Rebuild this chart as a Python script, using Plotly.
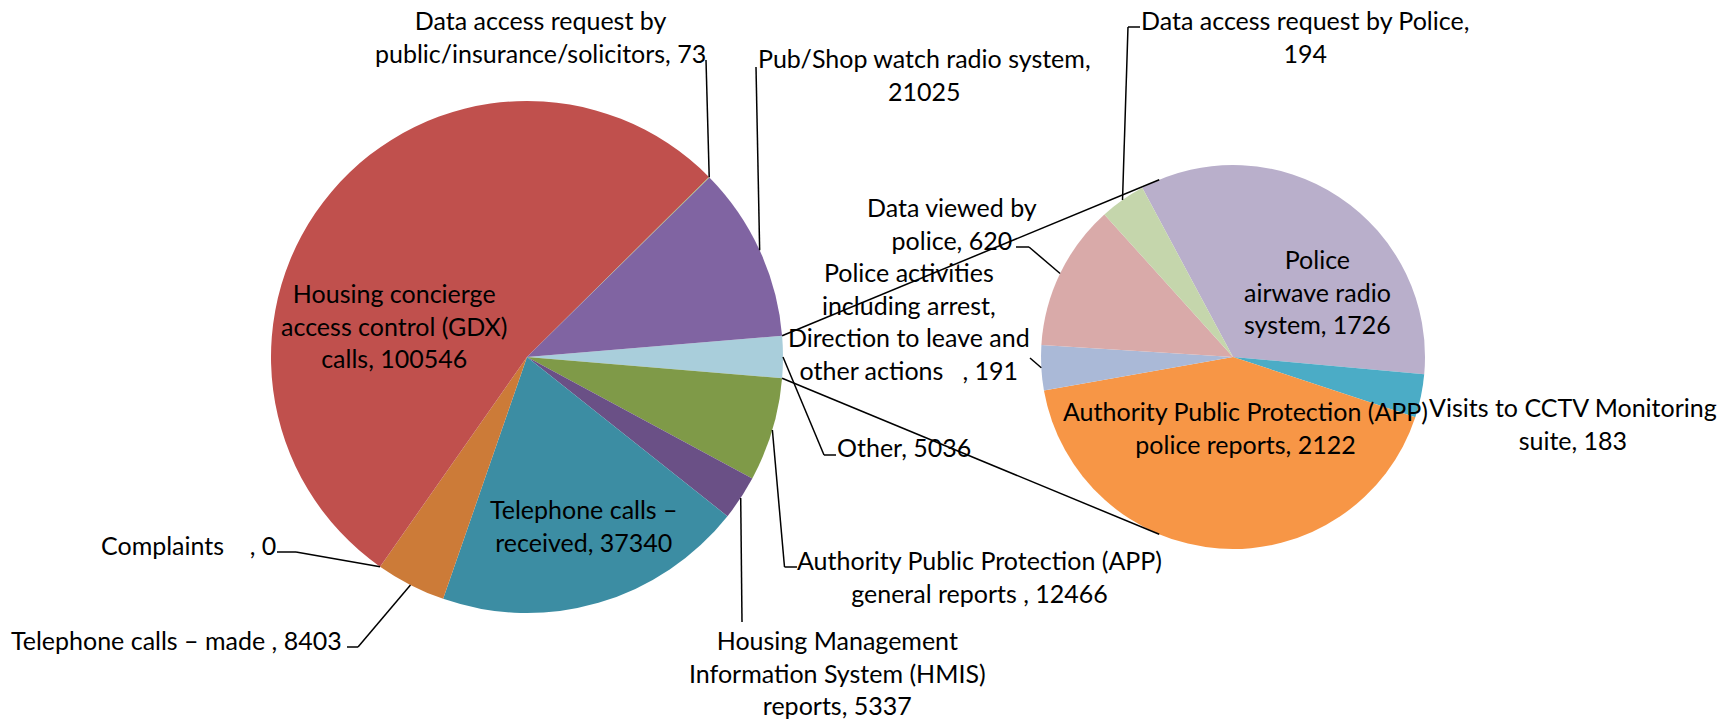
import math
import plotly.graph_objects as go

# ---------------- DATA ----------------
main_labels = [
    "Other",
    "Authority Public Protection (APP) general reports",
    "Housing Management Information System (HMIS) reports",
    "Telephone calls – received",
    "Telephone calls – made",
    "Complaints",
    "Housing concierge access control (GDX) calls",
    "Data access request by public/insurance/solicitors",
    "Pub/Shop watch radio system",
]
main_values = [5036, 12466, 5337, 37340, 8403, 0, 100546, 73, 21025]

second_labels = [
    "Police airwave radio system",
    "Visits to CCTV Monitoring suite",
    "Authority Public Protection (APP) police reports",
    "Police activities including arrest, Direction to leave and other actions",
    "Data viewed by police",
    "Data access request by Police",
]
second_values = [1726, 183, 2122, 191, 620, 194]

# label texts as shown on the chart
main_label_text = [
    "Other, 5036",
    "Authority Public Protection (APP)<br>general reports , 12466",
    "Housing Management<br>Information System (HMIS)<br>reports, 5337",
    "Telephone calls –<br>received, 37340",
    "Telephone calls – made , 8403",
    "Complaints\u00a0\u00a0\u00a0 , 0",
    "Housing concierge<br>access control (GDX)<br>calls, 100546",
    "Data access request by<br>public/insurance/solicitors, 73",
    "Pub/Shop watch radio system,<br>21025",
]
second_label_text = [
    "Police<br>airwave radio<br>system, 1726",
    "Visits to CCTV Monitoring<br>suite, 183",
    "Authority Public Protection (APP)<br>police reports, 2122",
    "Police activities<br>including arrest,<br>Direction to leave and<br>other actions\u00a0\u00a0 , 191",
    "Data viewed by<br>police, 620",
    "Data access request by Police,<br>194",
]

# ---------------- STYLE / GEOMETRY ----------------
W, H = 1722, 719
MAIN_C, MAIN_R = (527, 357), 256
SEC_C, SEC_R = (1233, 357), 192
SEC_ROTATION = -28.2
CONNECT_ANGLE = 22.6   # connector end points on the second pie, degrees from vertical
FONT = "Lato"
FS = 25
LINE_H = 32.5

main_colors = ["#A9CEDB", "#7F9A48", "#6A5086", "#3C8DA3", "#CC7B38",
               "#9BBB59", "#C0504D", "#9BBB59", "#8064A2"]
second_colors = ["#B9AFCB", "#4BACC6", "#F79646", "#AAB9D7", "#D9AAA9", "#C5D6AC"]

main_total = sum(main_values)
MAIN_ROTATION = 90 - main_values[0] / main_total * 360 / 2


def px(x):
    return x / W


def py(y):
    return 1 - y / H


def domain(c, r):
    return dict(x=[(c[0] - r) / W, (c[0] + r) / W], y=[1 - (c[1] + r) / H, 1 - (c[1] - r) / H])


def slice_angles(values, rotation):
    tot = sum(values)
    a = rotation
    out = []
    for v in values:
        b = a + v / tot * 360
        out.append((a, b))
        a = b
    return out


def on_circle(c, r, ang):
    t = math.radians(ang)
    return (c[0] + r * math.sin(t), c[1] - r * math.cos(t))


main_ang = slice_angles(main_values, MAIN_ROTATION)
sec_ang = slice_angles(second_values, SEC_ROTATION)

fig = go.Figure()
fig.add_trace(go.Pie(
    labels=main_labels, values=main_values, sort=False, direction="clockwise",
    rotation=MAIN_ROTATION, marker=dict(colors=main_colors, line=dict(width=0)),
    textinfo="none", domain=domain(MAIN_C, MAIN_R), showlegend=False,
    hoverinfo="label+value",
))
fig.add_trace(go.Pie(
    labels=second_labels, values=second_values, sort=False, direction="clockwise",
    rotation=SEC_ROTATION, marker=dict(colors=second_colors, line=dict(width=0)),
    textinfo="none", domain=domain(SEC_C, SEC_R), showlegend=False,
    hoverinfo="label+value",
))

# label placement: (pie, index, text centre x, first-line centre y, leader points from text, anchor fraction)
placements = [
    ("m", 7, 540, 20, [(706, 60)], 0.5),
    ("m", 8, 924, 58, [(756, 67)], 0.5),
    ("m", 0, 904, 447, [(836, 455), (824, 455)], 0.5),
    ("m", 1, 979, 560, [(797, 567), (784.5, 567)], 0.5),
    ("m", 2, 837, 640, [(742, 622)], 0.5),
    ("m", 4, 176, 640, [(347, 647), (358, 647)], 0.5),
    ("m", 5, 188, 545, [(277, 552), (296, 552)], 0.5),
    ("m", 6, 394, 293, None, None),
    ("m", 3, 584, 509, None, None),
    ("s", 5, 1305, 20, [(1140, 27), (1128, 27)], 0.5),
    ("s", 4, 952, 207, [(1016, 247), (1029, 247)], 0.5),
    ("s", 3, 909, 272, [(1030, 358)], 0.5),
    ("s", 1, 1573, 407, None, None),
    ("s", 0, 1317, 259, None, None),
    ("s", 2, 1245, 411, None, None),
]

shapes = []
annotations = []


def seg(p, q):
    shapes.append(dict(type="line", xref="paper", yref="paper",
                       x0=px(p[0]), y0=py(p[1]), x1=px(q[0]), y1=py(q[1]),
                       line=dict(color="black", width=1.5)))


for pie, idx, tx, ty, pts, frac in placements:
    text = (main_label_text if pie == "m" else second_label_text)[idx]
    n = text.count("<br>") + 1
    cy = ty + (n - 1) * LINE_H / 2
    annotations.append(dict(
        text=text, x=px(tx), y=py(cy), xref="paper", yref="paper",
        xanchor="center", yanchor="middle", showarrow=False, align="center",
        font=dict(family=FONT, size=FS, color="black"),
    ))
    if pts:
        a0, a1 = (main_ang if pie == "m" else sec_ang)[idx]
        c, r = (MAIN_C, MAIN_R) if pie == "m" else (SEC_C, SEC_R)
        anchor = on_circle(c, r, a0 + (a1 - a0) * frac)
        path = pts + [anchor]
        for p, q in zip(path[:-1], path[1:]):
            seg(p, q)

# connector lines between the "Other" slice and the second pie
o0, o1 = main_ang[0]
seg(on_circle(MAIN_C, MAIN_R, o0), on_circle(SEC_C, SEC_R, 360 - CONNECT_ANGLE))
seg(on_circle(MAIN_C, MAIN_R, o1), on_circle(SEC_C, SEC_R, 180 + CONNECT_ANGLE))

fig.update_layout(
    width=W, height=H, margin=dict(l=0, r=0, t=0, b=0),
    paper_bgcolor="white", plot_bgcolor="white",
    shapes=shapes, annotations=annotations,
    font=dict(family=FONT, size=FS, color="black"),
)

fig.write_html("out.html", config={"displayModeBar": False},
               post_script="document.body.style.margin='0px';")
